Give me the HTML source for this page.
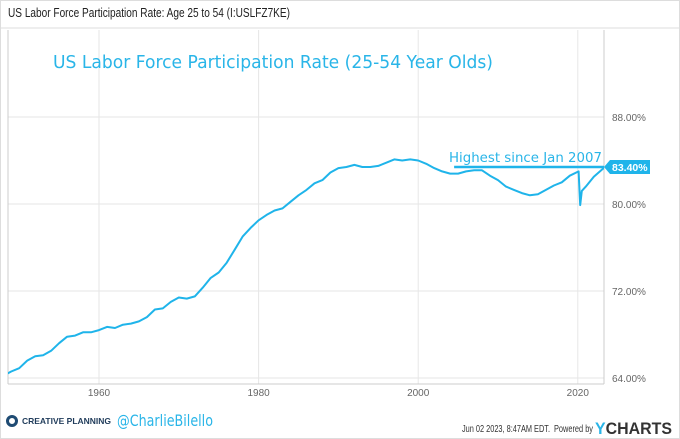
<!DOCTYPE html>
<html><head><meta charset="utf-8"><style>
body{margin:0;background:#fff;font-family:"Liberation Sans",sans-serif}
svg{display:block}
</style></head><body>
<svg id="c" width="680" height="439" xmlns="http://www.w3.org/2000/svg">
<rect x="0.5" y="0.5" width="679" height="438" fill="#fff" stroke="#ddd"/>
<text x="8" y="17" font-size="12.5" fill="#222" textLength="282" lengthAdjust="spacingAndGlyphs">US Labor Force Participation Rate: Age 25 to 54 (I:USLFZ7KE)</text>
<line x1="0" y1="28" x2="680" y2="28" stroke="#ddd"/>
<g id="grid"></g>
<text x="53" y="68" font-size="18" fill="#29b5e8" font-family="'DejaVu Sans',sans-serif" textLength="440" lengthAdjust="spacingAndGlyphs">US Labor Force Participation Rate (25-54 Year Olds)</text>
<g id="series"></g>
<text x="449" y="162" font-size="13.5" fill="#29b5e8" font-family="'DejaVu Sans',sans-serif" textLength="153" lengthAdjust="spacingAndGlyphs">Highest since Jan 2007</text>
<g id="footer">
<circle cx="12" cy="421" r="4.5" fill="none" stroke="#1f4b73" stroke-width="3"/>
<text x="22" y="424" font-size="8.5" font-weight="bold" fill="#1f3b5a" textLength="89" lengthAdjust="spacingAndGlyphs">CREATIVE PLANNING</text>
<text x="117" y="426" font-size="16" fill="#29b5e8" font-family="'DejaVu Sans',sans-serif" textLength="96" lengthAdjust="spacingAndGlyphs">@CharlieBilello</text>
<text x="462" y="432" font-size="10" fill="#333" textLength="88" lengthAdjust="spacingAndGlyphs">Jun 02 2023, 8:47AM EDT.</text>
<text x="554" y="432" font-size="10" fill="#333" textLength="39" lengthAdjust="spacingAndGlyphs">Powered by</text>
<text x="595" y="434" font-size="17" font-weight="bold" fill="#333" textLength="77" lengthAdjust="spacingAndGlyphs"><tspan fill="#29b5e8">Y</tspan>CHARTS</text>
</g>
</svg>
<script>
const years=[1948,1949,1950,1951,1952,1953,1954,1955,1956,1957,1958,1959,1960,1961,1962,1963,1964,1965,1966,1967,1968,1969,1970,1971,1972,1973,1974,1975,1976,1977,1978,1979,1980,1981,1982,1983,1984,1985,1986,1987,1988,1989,1990,1991,1992,1993,1994,1995,1996,1997,1998,1999,2000,2001,2002,2003,2004,2005,2006,2007,2008,2009,2010,2011,2012,2013,2014,2015,2016,2017,2018,2019,2020.1,2020.3,2020.5,2021,2022,2023.4];
const values=[64.2,64.6,64.9,65.6,66.0,66.1,66.5,67.2,67.8,67.9,68.2,68.2,68.4,68.7,68.6,68.9,69.0,69.2,69.6,70.3,70.4,71.0,71.4,71.3,71.5,72.3,73.2,73.7,74.6,75.8,77.0,77.8,78.5,79.0,79.4,79.6,80.2,80.8,81.3,81.9,82.2,82.9,83.3,83.4,83.6,83.4,83.4,83.5,83.8,84.1,84.0,84.1,84.0,83.7,83.3,83.0,82.8,82.8,83.0,83.1,83.1,82.6,82.2,81.6,81.3,81.0,80.8,80.9,81.3,81.7,82.0,82.6,83.0,79.9,81.2,81.6,82.5,83.4];
const yTicks=[64,72,80,88];
const xTicks=[1960,1980,2000,2020];
const lastVal=83.40, highSince=2004.5;
const NS="http://www.w3.org/2000/svg";
const X0=8,X1=604;
const x=yr=>99+(yr-1960)*7.98;
const y=v=>378-(v-64)*10.875;
function mk(t,a,p){const e=document.createElementNS(NS,t);for(const k in a)e.setAttribute(k,a[k]);p.appendChild(e);return e;}
const g=document.getElementById('grid');
const defs=mk('defs',{},g);
const cp=mk('clipPath',{id:'plotclip'},defs);
mk('rect',{x:X0,y:30,width:X1-X0,height:354},cp);
for(const t of yTicks){
 const l=mk('line',{x1:X0,x2:X1,y1:y(t),y2:y(t),stroke:'#e6e6e6'},g);
 
 
 const tx=mk('text',{x:612,y:y(t)+4,'font-size':10,fill:'#666'},g);tx.textContent=t.toFixed(2)+'%';
 
 
}
for(const t of xTicks){
 const l=mk('line',{x1:x(t),x2:x(t),y1:30,y2:384,stroke:'#e6e6e6'},g);
 
 
 const tx=mk('text',{x:x(t),y:396,'font-size':10,fill:'#666','text-anchor':'middle'},g);tx.textContent=t;
 
 
}
const ax=mk('line',{x1:X1,x2:X1,y1:30,y2:384,stroke:'#ccc'},g);


const bx=mk('line',{x1:X0,x2:X1,y1:384,y2:384,stroke:'#ccc'},g);


const lx=mk('line',{x1:X0,x2:X0,y1:30,y2:384,stroke:'#ccc'},g);


const s=document.getElementById('series');
const d=years.map((yr,i)=>(i?'L':'M')+x(yr).toFixed(1)+','+y(values[i]).toFixed(1)).join('');
const p=mk('path',{d:d,fill:'none',stroke:'#1fb4ea','stroke-width':2,'stroke-linejoin':'round','clip-path':'url(#plotclip)'},s);


const hl=mk('line',{x1:x(highSince),x2:X1,y1:y(lastVal),y2:y(lastVal),stroke:'#1fb4ea','stroke-width':2.5},s);


const tag=mk('path',{d:`M${X1},${y(lastVal)}L${X1+6},${y(lastVal)-7}H650V${y(lastVal)+7}H${X1+6}Z`,fill:'#1fb4ea'},s);


const tt=mk('text',{x:612,y:y(lastVal)+4,'font-size':10.5,'font-weight':'bold',fill:'#fff'},s);tt.textContent=lastVal.toFixed(2)+'%';


</script>
</body></html>
